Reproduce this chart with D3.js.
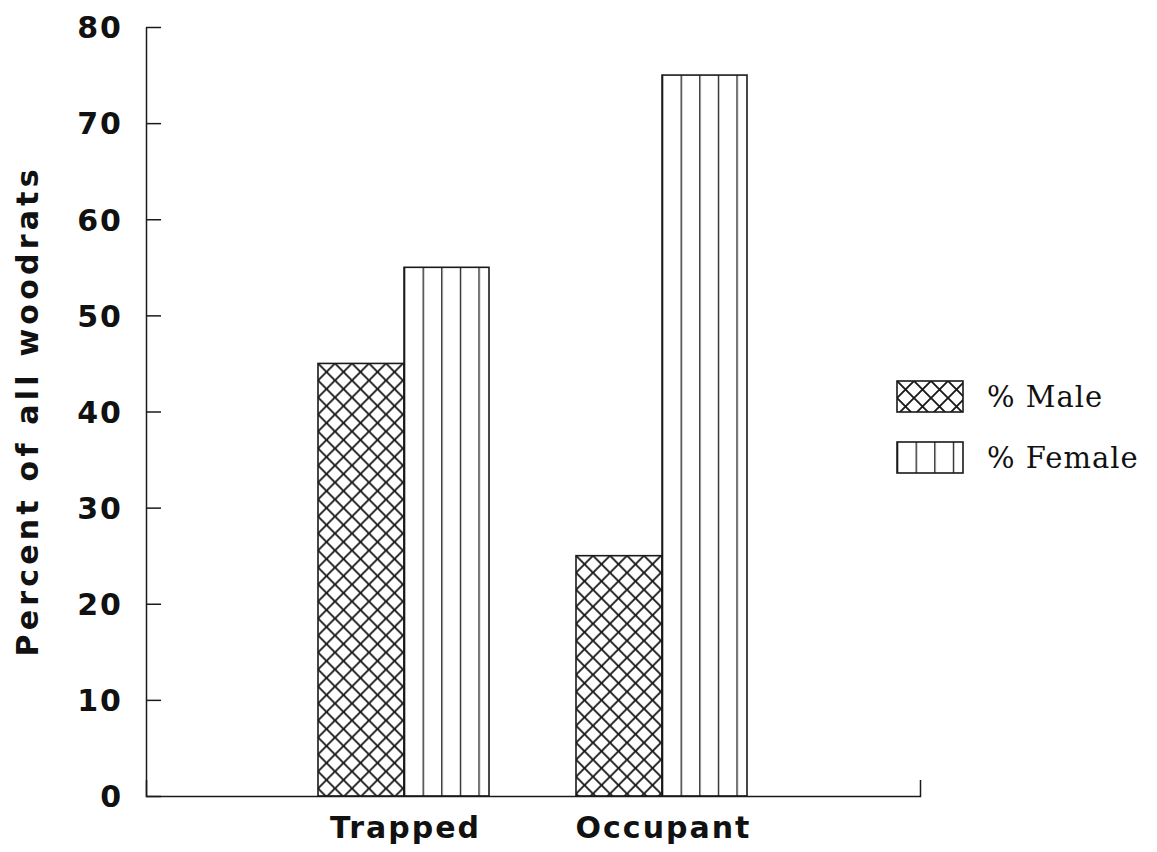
<!DOCTYPE html>
<html>
<head>
<meta charset="utf-8">
<script src="https://cdn.jsdelivr.net/npm/d3@7"></script>
<style>
  body { margin: 0; background: #fff; }
  svg { display: block; }
</style>
</head>
<body>
<svg id="chart"></svg>
<script>
// data
var categories = ["Trapped", "Occupant"];
var maleValues = [45, 25];
var femaleValues = [55, 75];
var seriesNames = ["% Male", "% Female"];
var yTicks = [0, 10, 20, 30, 40, 50, 60, 70, 80];

var W = 1157, H = 852;
var ink = "#1a1a1a";

svg = d3.select("#chart")
        .attr("width", W)
        .attr("height", H);

var y = d3.scaleLinear().domain([0, 80]).range([796, 27]);
var x = d3.scalePoint().domain(categories).range([146, 920]).padding(1);
var barW = 86;

// fill patterns (userSpaceOnUse, so each bar is drawn in its own translated group)
var defs = svg.append("defs");
var hatch = defs.append("pattern")
     .attr("id", "hatch")
     .attr("patternUnits", "userSpaceOnUse")
     .attr("width", 17)
     .attr("height", 17);
hatch.append("path")
     .attr("d", "M0,0L17,17M17,0L0,17M-2,15L2,19M15,-2L19,2M-2,2L2,-2M15,19L19,15")
     .attr("stroke", ink)
     .attr("stroke-width", 1.9);

var vlines = defs.append("pattern")
     .attr("id", "vlines")
     .attr("patternUnits", "userSpaceOnUse")
     .attr("width", 18.6)
     .attr("height", 20);
vlines.append("line")
     .attr("x1", 0.5).attr("x2", 0.5)
     .attr("y1", 0).attr("y2", 20)
     .attr("stroke", ink)
     .attr("stroke-width", 1.6);

// axes
var yAxis = d3.axisLeft(y)
     .tickValues(yTicks)
     .tickSizeInner(-15)
     .tickSizeOuter(0)
     .tickPadding(25);
var gy = svg.append("g")
     .attr("transform", "translate(146,0)")
     .call(yAxis);

var xAxis = d3.axisBottom(x)
     .tickSizeInner(0)
     .tickSizeOuter(-16)
     .tickPadding(21);
var gx = svg.append("g")
     .attr("transform", "translate(0,796)")
     .call(xAxis);

[gy, gx].forEach(function(g){
     g.selectAll("path, line")
          .attr("stroke", ink)
          .attr("stroke-width", 1.5);
     g.selectAll("text")
          .attr("fill", "#111")
          .style("font-family", "'DejaVu Sans', sans-serif")
          .style("font-weight", "bold")
          .style("font-size", "30px")
          .style("letter-spacing", "2px");
});
gy.selectAll("text").attr("dy", "0.36em").attr("dx", "2");
gx.selectAll("text").attr("dx", "1");

// bars
var bars = svg.append("g");
categories.forEach(function(c, i){
     var cx = x(c);
     var gm = bars.append("g").attr("transform", "translate(" + (cx - barW) + "," + y(maleValues[i]) + ")");
     gm.append("rect")
          .attr("width", barW)
          .attr("height", y(0) - y(maleValues[i]))
          .attr("fill", "url(#hatch)")
          .attr("stroke", ink)
          .attr("stroke-width", 1.6);

     var gf = bars.append("g").attr("transform", "translate(" + cx + "," + y(femaleValues[i]) + ")");
     gf.append("rect")
          .attr("width", barW - 1)
          .attr("height", y(0) - y(femaleValues[i]))
          .attr("fill", "url(#vlines)")
          .attr("stroke", ink)
          .attr("stroke-width", 1.6);
});

// y title
svg.append("text")
     .attr("transform", "translate(38,413) rotate(-90)")
     .attr("text-anchor", "middle")
     .attr("textLength", 487)
     .attr("lengthAdjust", "spacing")
     .attr("fill", "#111")
     .style("font-family", "'DejaVu Sans', sans-serif")
     .style("font-weight", "bold")
     .style("font-size", "30px")
     .text("Percent of all woodrats");

// legend
var legend = svg.append("g");
seriesNames.forEach(function(name, i){
     var ly = 381 + 61 * i;
     var box = legend.append("g").attr("transform", "translate(897," + ly + ")");
     box.append("rect")
          .attr("width", 66)
          .attr("height", 31)
          .attr("fill", i == 0 ? "url(#hatch)" : "url(#vlines)")
          .attr("stroke", ink)
          .attr("stroke-width", 1.6);
     legend.append("text")
          .text(name)
          .attr("x", 987)
          .attr("y", ly + 26)
          .attr("fill", "#111")
          .style("font-family", "'DejaVu Serif', serif")
          .style("font-size", "29px")
          .style("letter-spacing", "1px");
});
</script>
</body>
</html>
